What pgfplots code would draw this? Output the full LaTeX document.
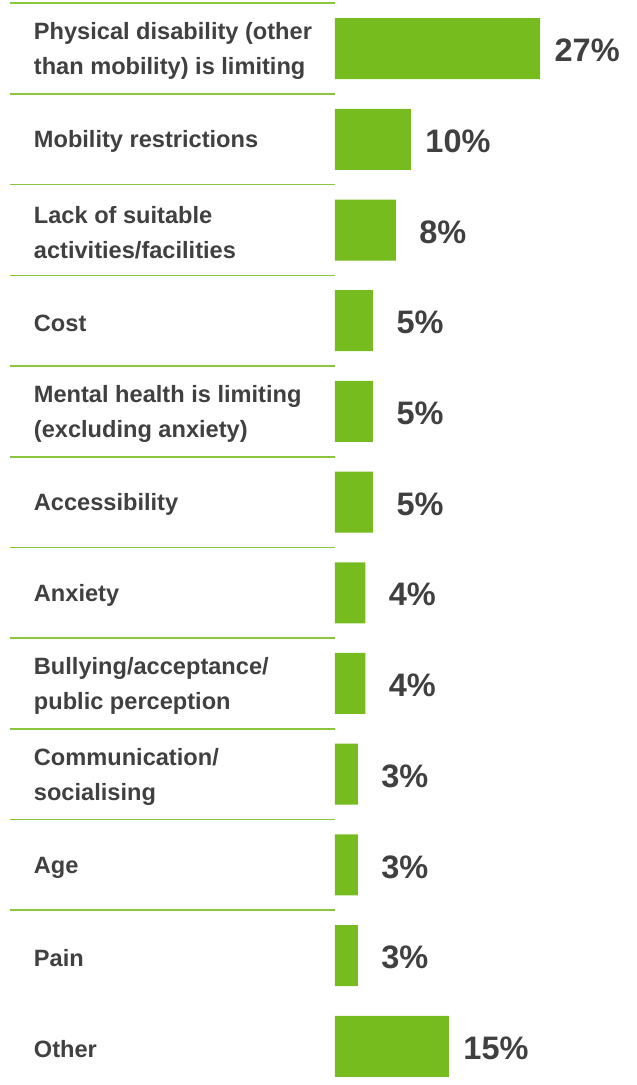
\documentclass[border=0pt]{standalone}
\usepackage{fontspec}
\setmainfont{Liberation Sans}
\usepackage{pgfplots}
\pgfplotsset{compat=1.18}
\definecolor{bargreen}{HTML}{77BC1F}
\definecolor{sepgreen}{HTML}{8CC63E}
\definecolor{txt}{HTML}{404041}
\begin{document}
\begin{tikzpicture}
\begin{axis}[
  scale only axis,
  width=637pt, height=1085pt,
  xmin=-44.08, xmax=39.74,
  ymin=-0.536, ymax=11.427,
  y dir=reverse,
  clip=false,
  axis line style={draw=none},
  tick style={draw=none},
  xtick=\empty,
  ytick={0,1,2,3,4,5,6,7,8,9,10,11},
  yticklabels={
    {Physical disability (other\\than mobility) is limiting},
    {Mobility restrictions},
    {Lack of suitable\\activities/facilities},
    {Cost},
    {Mental health is limiting\\(excluding anxiety)},
    {Accessibility},
    {Anxiety},
    {Bullying/acceptance/\\public perception},
    {Communication/\\socialising},
    {Age},
    {Pain},
    {Other}},
  yticklabel style={anchor=west, align=left, inner sep=0pt, xshift=38pt, yshift=-2.5pt,
    text=txt, font=\bfseries\fontsize{23.6}{35}\selectfont},
  xbar, bar width=61pt, bar shift=0pt,
  point meta=x,
  /pgf/number format/assume math mode=true,
  nodes near coords={\pgfmathprintnumber{\pgfplotspointmeta}\%},
  nodes near coords style={anchor=center, inner sep=0pt, xshift=47pt, yshift=-2pt,
    text=txt, font=\bfseries\fontsize{32.5}{32.5}\selectfont},
]
\pgfplotsinvokeforeach{0,...,10}{
  \draw[sepgreen, line width=1.6pt] (axis cs:-42.76,{#1-0.5}) -- (axis cs:0,{#1-0.5});
}
\addplot[fill=bargreen, draw=none] coordinates {
  (27,0) (10,1) (8,2) (5,3) (5,4) (5,5) (4,6) (4,7) (3,8) (3,9) (3,10) (15,11)
};
\end{axis}
\pgfresetboundingbox
\path (current axis.south west) rectangle (current axis.north east);
\end{tikzpicture}
\end{document}
